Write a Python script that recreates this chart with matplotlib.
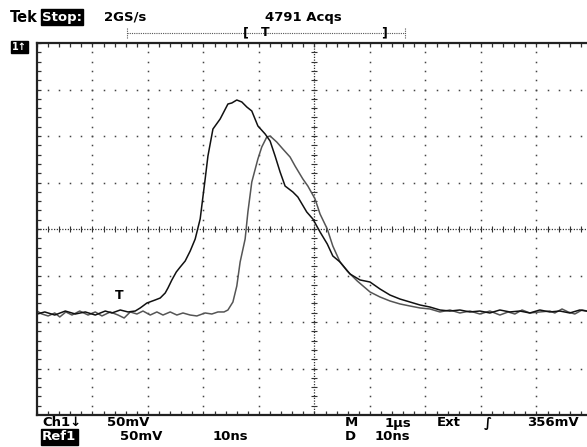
import matplotlib
matplotlib.use('Agg')
import matplotlib.pyplot as plt
from matplotlib.lines import Line2D
import numpy as np

# Ch1 trace (ns, mV): 10 ns/div, 50 mV/div
ch1_t = [0, 1.4, 3.2, 5.1, 6.9, 8.7, 10.5, 12.3, 13.5, 15.0, 16.4, 17.7, 18.6, 19.8,
         21.3, 22.2, 23.1, 23.6, 24.3, 25.1, 25.8, 26.7, 27.6, 28.5, 29.4, 30.3, 30.8,
         31.7, 33.0, 34.4, 35.1, 36.0, 36.9, 37.8, 38.7, 39.8, 41.1, 42.0, 42.9, 43.8,
         44.7, 46.1, 47.0, 48.6, 49.7, 51.0, 52.3, 53.3, 54.6, 56.4, 58.2, 60.0, 61.8,
         63.6, 65.4, 67.2, 69.0, 70.8, 72.6, 74.4, 76.2, 78.0, 79.8, 81.6, 83.4, 85.2,
         87.0, 88.8, 90.6, 92.4, 94.2, 96.0, 97.8, 100]
ch1_v = [-91.4, -89.2, -92.5, -88.2, -91.4, -89.2, -92.5, -88.2, -90.3, -87.1, -89.2,
         -88.2, -84.9, -79.6, -76.3, -74.2, -68.8, -63.4, -54.8, -46.2, -40.9, -34.4,
         -23.7, -10.8, 10.8, 53.8, 78.5, 107.5, 118.3, 134.4, 135.5, 138.7, 136.6, 131.2,
         126.9, 110.8, 102.2, 94.6, 78.5, 61.3, 46.2, 39.8, 34.4, 18.3, 10.8, -3.2, -16.1,
         -29.0, -35.5, -48.4, -54.8, -57.0, -64.5, -71.0, -75.3, -78.5, -81.7, -83.9,
         -87.1, -88.2, -87.1, -89.2, -88.2, -90.3, -87.1, -89.2, -88.2, -90.3, -87.1,
         -89.2, -88.2, -90.3, -87.1, -89.2]

# Ref1 trace (ns, mV)
ref1_t = [0, 0.9, 2.0, 3.2, 4.1, 5.2, 6.3, 7.7, 9.2, 10.5, 11.7, 13.2, 14.6, 15.7, 16.8,
          18.0, 19.1, 20.4, 21.6, 22.7, 24.0, 25.2, 26.3, 27.6, 28.8, 30.3, 31.5, 32.6,
          33.7, 34.4, 35.3, 36.0, 36.6, 37.5, 38.0, 38.7, 39.8, 40.5, 41.4, 42.0, 43.2,
          44.3, 45.6, 46.5, 47.9, 48.8, 50.1, 51.0, 52.3, 53.3, 54.6, 55.9, 57.7, 60.0,
          61.8, 63.6, 65.4, 67.2, 69.0, 70.8, 72.6, 74.4, 76.2, 78.0, 79.8, 81.6, 83.4,
          84.9, 86.1, 87.4, 88.8, 90.6, 92.4, 93.3, 94.6, 95.7, 96.9, 98.2, 100]
ref1_v = [-88.2, -91.4, -93.5, -90.3, -94.6, -89.2, -92.5, -88.2, -92.5, -89.2, -93.5,
          -89.2, -92.5, -95.7, -89.2, -91.4, -88.2, -92.5, -89.2, -92.5, -89.2, -92.5,
          -90.3, -92.5, -93.5, -90.3, -91.4, -89.2, -89.2, -87.1, -78.5, -61.3, -35.5,
          -10.8, 18.3, 50.5, 75.3, 88.2, 98.9, 100.0, 93.5, 86.0, 77.4, 67.7, 53.8, 46.2,
          32.3, 16.1, 0.0, -18.3, -35.5, -45.2, -55.9, -67.7, -73.1, -77.4, -80.6, -82.8,
          -84.9, -86.0, -89.2, -87.1, -90.3, -88.2, -91.4, -88.2, -92.5, -89.2, -91.4,
          -87.1, -90.3, -89.2, -88.2, -90.3, -86.0, -89.2, -91.4, -87.1, -89.2]

trig_t, trig_v = 14.8, -78.5

W, H = 587, 447
fig = plt.figure(figsize=(W / 100, H / 100), dpi=100)
fig.patch.set_facecolor('white')

def fx(px):
    return px / W

def fy(py):
    return 1 - py / H

# graticule: 10 x 8 divisions, right edge runs off the screen
ax = fig.add_axes([fx(37), 32 / H, 555 / W, 372 / H])
ax.set_xlim(0, 100)
ax.set_ylim(-200, 200)
ax.set_xticks([])
ax.set_yticks([])
ax.spines['right'].set_visible(False)
for s in ['left', 'top', 'bottom']:
    ax.spines[s].set_linewidth(1.6)
    ax.spines[s].set_color('#222222')

dot = dict(ls='none', marker='s', ms=1.1, mec='none', mfc='#444444')
minor_t = np.arange(0, 101, 2)
minor_v = np.arange(-200, 201, 10)
for t in range(10, 100, 10):
    if t != 50:
        ax.plot([t] * len(minor_v), minor_v, **dot)
for v in range(-150, 200, 50):
    if v != 0:
        ax.plot(minor_t, [v] * len(minor_t), **dot)

# center cross with tick marks
ax.axhline(0, color='#333333', lw=0.9, ls=(0, (1, 1.2)))
ax.axvline(50, color='#333333', lw=0.9, ls=(0, (1, 1.2)))
ax.plot(minor_t, [0] * len(minor_t), ls='none', marker='|', ms=5, mew=0.8, color='#333333')
ax.plot([50] * len(minor_v), minor_v, ls='none', marker='_', ms=5, mew=0.8, color='#333333')

# border ticks
ax.plot(minor_t, [200] * len(minor_t), ls='none', marker='|', ms=6, mew=0.9, color='#333333')
ax.plot(minor_t, [-200] * len(minor_t), ls='none', marker='|', ms=6, mew=0.9, color='#333333')
ax.plot([0] * len(minor_v), minor_v, ls='none', marker='_', ms=6, mew=0.9, color='#333333')

# traces
ax.plot(ref1_t, ref1_v, color='#555555', lw=1.1)
ax.plot(ch1_t, ch1_v, color='#111111', lw=1.1)
ax.text(trig_t, trig_v, 'T', ha='center', va='bottom', fontsize=9, fontweight='bold')

# top status line
fs = 9.5
bw = 'bold'
fig.text(fx(10), fy(17), 'Tek', fontsize=10.5, fontweight='bold', va='center')
fig.text(fx(42), fy(17), 'Stop:', fontsize=fs, fontweight='bold', va='center', color='white',
         bbox=dict(boxstyle='square,pad=0.1', fc='black', ec='black'))
fig.text(fx(104), fy(17), '2GS/s', fontsize=fs, fontweight=bw, va='center')
fig.text(fx(265), fy(17), '4791 Acqs', fontsize=fs, fontweight=bw, va='center')

# record position bar
fig.add_artist(Line2D([fx(127), fx(405)], [fy(33), fy(33)], transform=fig.transFigure,
                      color='#555555', lw=0.8, ls=(0, (1, 1))))
for px in (127, 405):
    fig.add_artist(Line2D([fx(px), fx(px)], [fy(28), fy(38)], transform=fig.transFigure,
                          color='#555555', lw=0.8, ls=(0, (1, 1))))
fig.text(fx(246), fy(33), '[', fontsize=9, fontweight='bold', va='center', ha='center')
fig.text(fx(265), fy(33), 'T', fontsize=9, fontweight='bold', va='center', ha='center')
fig.text(fx(384), fy(33), ']', fontsize=9, fontweight='bold', va='center', ha='center')

# channel ground marker
fig.text(fx(12), fy(47), '1\u2191', fontsize=7, fontweight='bold', va='center', color='white',
         bbox=dict(boxstyle='square,pad=0.1', fc='black', ec='black'))

# bottom readout
fig.text(fx(42), fy(423), 'Ch1\u2193', fontsize=fs, fontweight=bw, va='center')
fig.text(fx(107), fy(423), '50mV', fontsize=fs, fontweight=bw, va='center')
fig.text(fx(345), fy(423), 'M', fontsize=fs, fontweight=bw, va='center')
fig.text(fx(385), fy(423), '1\u00b5s', fontsize=fs, fontweight=bw, va='center')
fig.text(fx(437), fy(423), 'Ext', fontsize=fs, fontweight=bw, va='center')
fig.text(fx(484), fy(423), '\u222b', fontsize=fs, va='center', fontweight='bold')
fig.text(fx(527), fy(423), '356mV', fontsize=fs, fontweight=bw, va='center')

fig.text(fx(42), fy(437), 'Ref1', fontsize=fs, fontweight='bold', va='center', color='white',
         bbox=dict(boxstyle='square,pad=0.1', fc='black', ec='black'))
fig.text(fx(120), fy(437), '50mV', fontsize=fs, fontweight=bw, va='center')
fig.text(fx(213), fy(437), '10ns', fontsize=fs, fontweight=bw, va='center')
fig.text(fx(345), fy(437), 'D', fontsize=fs, fontweight=bw, va='center')
fig.text(fx(375), fy(437), '10ns', fontsize=fs, fontweight=bw, va='center')

fig.savefig('out.png', dpi=100)
